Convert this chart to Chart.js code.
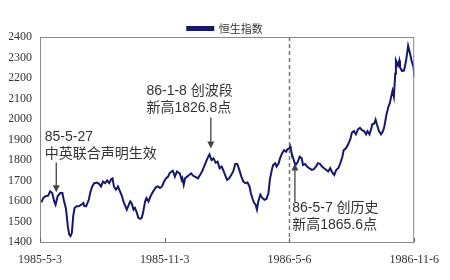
<!DOCTYPE html>
<html>
<head>
<meta charset="utf-8">
<script src="https://cdn.jsdelivr.net/npm/chart.js@4.4.1/dist/chart.umd.min.js"></script>
<style>
  html, body { margin: 0; padding: 0; background: #fff; }
  #wrap { width: 450px; height: 280px; }
</style>
</head>
<body>
<div id="wrap"><canvas id="grafico"></canvas></div>
<script>
// eixo x: dias desde 1985-5-3
const tickDays = [0, 184, 368, 552];
const tickLabels = ["1985-5-3", "1985-11-3", "1986-5-6", "1986-11-6"];

const days = [
  2, 5, 8, 12, 15, 18, 21, 23, 26, 30, 33, 35, 38, 39, 41, 43, 45, 47, 49, 51,
  54, 57, 61, 64, 65, 68, 72, 74, 77, 80, 84, 87, 90, 93, 96, 99, 102, 105, 107, 109,
  112, 115, 118, 121, 123, 126, 128, 130, 133, 135, 138, 140, 143, 145, 148, 150, 152, 155, 157, 160,
  163, 167, 171, 174, 177, 180, 183, 186, 189, 191, 194, 196, 199, 202, 206, 209, 210, 212, 214, 217,
  220, 223, 226, 230, 233, 236, 239, 242, 245, 248, 250, 253, 256, 259, 262, 265, 268, 271, 274, 276,
  279, 282, 285, 288, 291, 294, 297, 300, 303, 306, 309, 311, 314, 316, 318, 320, 322, 325, 328, 331,
  334, 337, 339, 342, 344, 347, 349, 352, 354, 357, 360, 363, 365, 368, 369, 370, 372, 375, 377, 380,
  383, 386, 388, 391, 394, 397, 401, 404, 407, 410, 413, 416, 419, 422, 425, 428, 431, 434, 437, 440,
  443, 446, 448, 451, 454, 458, 460, 463, 466, 469, 472, 475, 478, 481, 483, 486, 489, 490, 493, 495,
  497, 500, 503, 506, 508, 511, 514, 516, 518, 520, 522, 524, 525, 528, 530, 531, 534, 537, 540, 543,
  546, 548, 551, 552
];

const hsi = [
  1594, 1615, 1623, 1626, 1647, 1639, 1598, 1582, 1623, 1639, 1639, 1606, 1566, 1542, 1477, 1437, 1429, 1445, 1526, 1566,
  1574, 1574, 1582, 1590, 1577, 1574, 1606, 1639, 1671, 1687, 1690, 1684, 1671, 1695, 1687, 1700, 1687, 1706, 1710, 1671,
  1655, 1671, 1647, 1623, 1598, 1574, 1558, 1574, 1598, 1590, 1558, 1566, 1542, 1518, 1513, 1518, 1542, 1598, 1615, 1598,
  1623, 1647, 1668, 1671, 1663, 1671, 1695, 1711, 1719, 1735, 1744, 1748, 1719, 1744, 1735, 1703, 1711, 1679, 1711, 1719,
  1727, 1735, 1723, 1716, 1710, 1727, 1744, 1768, 1792, 1815, 1827, 1800, 1808, 1787, 1792, 1760, 1768, 1744, 1719, 1703,
  1711, 1727, 1744, 1781, 1781, 1752, 1719, 1695, 1687, 1690, 1671, 1639, 1606, 1590, 1582, 1558, 1598, 1631, 1615, 1606,
  1610, 1639, 1703, 1752, 1776, 1784, 1768, 1784, 1808, 1832, 1848, 1840, 1852, 1858, 1866, 1850, 1824, 1792, 1776, 1789,
  1816, 1808, 1776, 1781, 1768, 1760, 1752, 1755, 1768, 1784, 1781, 1768, 1760, 1752, 1744, 1760, 1739, 1727, 1752, 1760,
  1784, 1816, 1848, 1856, 1873, 1904, 1933, 1941, 1925, 1949, 1957, 1946, 1941, 1925, 1941, 1925, 1957, 1973, 1978, 1997,
  1973, 1941, 1925, 1941, 1965, 2021, 2061, 2077, 2109, 2138, 2109, 2221, 2285, 2261, 2285, 2253, 2234, 2237, 2285, 2357,
  2317, 2285, 2253, 2205
];

const serieNome = "恒生指数";

// anotações (posição em coordenadas de dados)
const notas = [
  { linhas: ["85-5-27", "中英联合声明生效"], x: 7, y: 1910, seta: [24, 1788, 1643] },
  { linhas: ["86-1-8 创波段", "新高1826.8点"], x: 157, y: 2138, seta: [252, 2007, 1856] },
  { linhas: ["86-5-7 创历史", "新高1865.6点"], x: 372, y: 1565, seta: [376, 1594, 1783] },
];
const diaMarco = 368;

const serif = '"Liberation Serif", "DejaVu Serif", serif';

const extras = {
  id: "extras",
  beforeLayout(chart) {
    // desce a legenda sem mexer na área do gráfico
    const lg = chart.legend;
    if (lg && !lg._ajustado) {
      const fit = lg.fit.bind(lg);
      lg.fit = function () { fit(); this.height -= 7; };
      lg._ajustado = true;
    }
  },
  afterDatasetsDraw(chart) {
    const { ctx, chartArea: a, scales } = chart;
    const sx = scales.x, sy = scales.y;
    ctx.save();

    // moldura
    ctx.strokeStyle = "#8a8a8a";
    ctx.lineWidth = 1;
    ctx.strokeRect(a.left + 0.5, a.top + 0.5, a.right - a.left - 1, a.bottom - a.top);

    // marcas internas no eixo x
    ctx.strokeStyle = "#666";
    tickDays.forEach((d) => {
      const px = Math.round(sx.getPixelForValue(d)) + 0.5;
      ctx.beginPath();
      ctx.moveTo(px, a.bottom);
      ctx.lineTo(px, a.bottom - 4);
      ctx.stroke();
    });

    // linha tracejada
    const xm = sx.getPixelForValue(diaMarco);
    ctx.strokeStyle = "#777";
    ctx.lineWidth = 1.5;
    ctx.setLineDash([4, 3]);
    ctx.beginPath();
    ctx.moveTo(xm, a.top);
    ctx.lineTo(xm, a.bottom);
    ctx.stroke();
    ctx.setLineDash([]);

    // textos e setas
    ctx.font = '14px "Liberation Sans", "Noto Sans CJK SC", sans-serif';
    ctx.textBaseline = "middle";
    ctx.textAlign = "left";
    notas.forEach((n) => {
      const tx = sx.getPixelForValue(n.x);
      const ty = sy.getPixelForValue(n.y);
      ctx.fillStyle = "#333";
      n.linhas.forEach((l, i) => ctx.fillText(l, tx, ty + i * 17));

      const [d, v1, v2] = n.seta;
      const ax = sx.getPixelForValue(d);
      const y1 = sy.getPixelForValue(v1);
      const y2 = sy.getPixelForValue(v2);
      const dir = y2 > y1 ? 1 : -1;
      ctx.strokeStyle = "#444";
      ctx.fillStyle = "#444";
      ctx.lineWidth = 1.3;
      ctx.beginPath();
      ctx.moveTo(ax, y1);
      ctx.lineTo(ax, y2 - dir * 5);
      ctx.stroke();
      ctx.beginPath();
      ctx.moveTo(ax, y2);
      ctx.lineTo(ax - 3.5, y2 - dir * 7);
      ctx.lineTo(ax + 3.5, y2 - dir * 7);
      ctx.closePath();
      ctx.fill();
    });
    ctx.restore();
  }
};

const ctx = document.getElementById("grafico").getContext("2d");
new Chart(ctx, {
  type: "line",
  data: {
    datasets: [{
      label: serieNome,
      data: days.map((d, i) => ({ x: d, y: hsi[i] })),
      borderColor: "#17176b",
      backgroundColor: "#17176b",
      borderWidth: 2,
      pointRadius: 0,
      tension: 0,
      fill: false
    }]
  },
  options: {
    responsive: true,
    maintainAspectRatio: false,
    animation: false,
    layout: { padding: { top: 17, right: 9, left: 9, bottom: 0 } },
    plugins: {
      tooltip: { enabled: false },
      legend: {
        position: "top",
        labels: {
          boxWidth: 26,
          boxHeight: 3,
          padding: 6,
          color: "#333",
          font: { family: '"Noto Sans CJK SC", sans-serif', size: 11 }
        }
      }
    },
    scales: {
      x: {
        type: "linear",
        min: 0,
        max: 552,
        grid: { display: false, drawTicks: false },
        border: { display: false },
        afterBuildTicks: (s) => { s.ticks = tickDays.map((v) => ({ value: v })); },
        afterFit: (s) => { s.height = 38; },
        ticks: {
          autoSkip: false,
          maxRotation: 0,
          padding: 11,
          color: "#333",
          font: { family: serif, size: 12 },
          callback: (v) => tickLabels[tickDays.indexOf(v)]
        }
      },
      y: {
        min: 1400,
        max: 2400,
        grid: { display: false, drawTicks: false },
        border: { display: false },
        afterFit: (s) => { s.width = 31; },
        ticks: {
          stepSize: 100,
          padding: 8,
          color: "#333",
          font: { family: serif, size: 12 },
          callback: (v) => String(v)
        }
      }
    }
  },
  plugins: [extras]
});
</script>
</body>
</html>
